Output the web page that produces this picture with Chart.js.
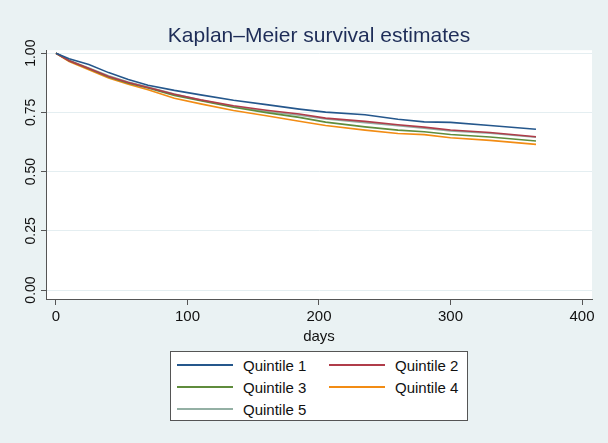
<!DOCTYPE html>
<html>
<head>
<meta charset="utf-8">
<script src="https://cdn.jsdelivr.net/npm/chart.js@4.4.1/dist/chart.umd.min.js"></script>
<style>
    body { margin: 0; background: #eaf2f3; }
    #wrap { position: relative; width: 608px; height: 443px; background: #eaf2f3; }
    #legend {
        position: absolute; left: 170px; top: 351px; width: 298px; height: 70px;
        box-sizing: border-box; border: 1px solid #555; background: #fff;
        padding: 2px 0 0 6px;
        display: grid; grid-template-columns: 152px 140px; grid-auto-rows: 22px;
        font-family: "Liberation Sans", Arial, sans-serif; font-size: 15px; color: #111;
    }
    .item { display: flex; align-items: center; }
    .swatch { display: inline-block; width: 56px; height: 2px; margin-right: 10px; }
</style>
</head>
<body>
<div id="wrap">
    <canvas id="kmChart" width="608" height="443"></canvas>
    <div id="legend"></div>
</div>
<script>
const days = [0, 10, 25, 40, 55, 70, 90, 110, 135, 160, 185, 205, 235, 260, 280, 300, 330, 365];

const quintile1 = [1.0, 0.977, 0.952, 0.918, 0.889, 0.865, 0.843, 0.824, 0.801, 0.783, 0.764, 0.751, 0.740, 0.721, 0.710, 0.708, 0.695, 0.679];
const quintile2 = [1.0, 0.968, 0.935, 0.902, 0.876, 0.855, 0.827, 0.803, 0.778, 0.759, 0.743, 0.726, 0.712, 0.698, 0.688, 0.676, 0.665, 0.647];
const quintile3 = [1.0, 0.968, 0.934, 0.900, 0.873, 0.853, 0.822, 0.799, 0.772, 0.749, 0.729, 0.709, 0.689, 0.675, 0.668, 0.657, 0.646, 0.629];
const quintile4 = [1.0, 0.965, 0.930, 0.895, 0.869, 0.846, 0.810, 0.786, 0.758, 0.736, 0.713, 0.695, 0.675, 0.661, 0.656, 0.643, 0.632, 0.615];
const quintile5 = [1.0, 0.970, 0.938, 0.905, 0.878, 0.857, 0.828, 0.802, 0.775, 0.754, 0.738, 0.722, 0.707, 0.694, 0.683, 0.672, 0.662, 0.645];

const seriesNames = ['Quintile 1', 'Quintile 2', 'Quintile 3', 'Quintile 4', 'Quintile 5'];
const seriesColors = ['#25578c', '#b03c4a', '#5f8c3c', '#f28c14', '#94b0a4'];
const xTicks = [0, 100, 200, 300, 400];
const yTicks = [0, 0.25, 0.5, 0.75, 1.0];

const fontFamily = '"Liberation Sans", Arial, sans-serif';
const allSeries = [quintile1, quintile2, quintile3, quintile4, quintile5];

const datasets = allSeries.map((vals, i) => ({
    label      : seriesNames[i],
    data       : vals.map((v, j) => ({x: days[j], y: v})),
    borderColor: seriesColors[i],
    borderWidth: 1.6,
    pointRadius: 0,
    tension    : 0
}));

const plotBackground = {
    id: 'plotBackground',
    beforeDraw(chart) {
        const {ctx, chartArea} = chart;
        ctx.save();
        ctx.fillStyle = '#ffffff';
        ctx.fillRect(chartArea.left, chartArea.top, chartArea.right - chartArea.left, chartArea.bottom - chartArea.top);
        ctx.restore();
    }
};

const chart = new Chart(document.getElementById('kmChart'), {
    type: 'line',
    data: {datasets: datasets},
    plugins: [plotBackground],
    options: {
        responsive: false,
        animation : false,
        layout    : {padding: {top: 0, right: 16, bottom: 94, left: 0}},
        plugins   : {
            legend : {display: false},
            tooltip: {enabled: false},
            title  : {
                display : true,
                fullSize: false,
                text    : 'Kaplan–Meier survival estimates',
                color   : '#1e2d58',
                font    : {family: fontFamily, size: 21, weight: 'normal'},
                padding : {top: 24, bottom: 1}
            }
        },
        scales: {
            x: {
                type : 'linear',
                min  : -7.6,
                max  : 407.6,
                afterBuildTicks: s => { s.ticks = xTicks.map(v => ({value: v})); },
                afterFit: s => { s.height = 50; },
                grid : {drawOnChartArea: false, tickLength: 6, tickColor: '#555', color: '#555'},
                border: {color: '#555', width: 1},
                ticks: {color: '#111', font: {family: fontFamily, size: 15}, padding: 3, maxRotation: 0},
                title: {display: true, text: 'days', color: '#111', font: {family: fontFamily, size: 15}, padding: {top: 0, bottom: 3}}
            },
            y: {
                min  : -0.038,
                max  : 1.0127,
                afterBuildTicks: s => { s.ticks = yTicks.map(v => ({value: v})); },
                afterFit: s => { s.width = 46; },
                grid : {color: '#e4eef1', tickLength: 5, tickColor: '#555'},
                border: {color: '#555', width: 1},
                ticks: {
                    color: '#111',
                    font: {family: fontFamily, size: 14},
                    minRotation: 90,
                    maxRotation: 90,
                    crossAlign: 'center',
                    padding: -4,
                    callback: v => v.toFixed(2)
                }
            }
        }
    }
});

// legend in two columns inside a box
const legendEl = document.getElementById('legend');
chart.data.datasets.forEach(ds => {
    const item = document.createElement('div');
    item.className = 'item';
    item.innerHTML = `<span class="swatch" style="background:${ds.borderColor}"></span><span>${ds.label}</span>`;
    legendEl.appendChild(item);
});
</script>
</body>
</html>
